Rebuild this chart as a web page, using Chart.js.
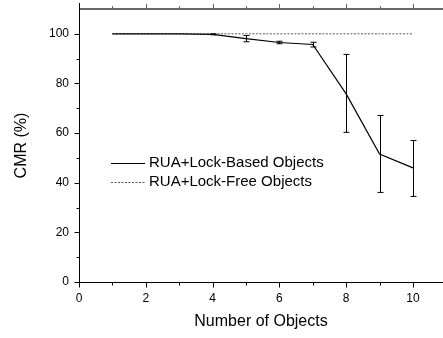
<!DOCTYPE html>
<html>
<head>
<meta charset="utf-8">
<title>CMR vs Number of Objects</title>
<script src="https://cdn.jsdelivr.net/npm/chart.js@4"></script>
<style>
  html,body{margin:0;padding:0;background:#fff;}
  #wrap{width:443px;height:338px;position:relative;}
</style>
</head>
<body>
<div id="wrap"><canvas id="cmr-chart"></canvas></div>
<script>
/* ── Data ── */
var objectCounts = [1, 2, 3, 4, 5, 6, 7, 8, 9, 10];
var lockBasedCmr = [100, 100, 100, 99.8, 98.1, 96.5, 95.7, 75.8, 51.6, 46.0];
var lockBasedLow = [100, 100, 100, 99.6, 96.8, 96.0, 94.7, 60.3, 36.1, 34.5];
var lockBasedHigh = [100, 100, 100, 100, 99.3, 97.0, 96.6, 91.7, 67.1, 57.0];
var lockFreeCmr = [100, 100, 100, 100, 100, 100, 100, 100, 100, 100];
var seriesNames = ['RUA+Lock-Based Objects', 'RUA+Lock-Free Objects'];

var FONT = '"Liberation Sans", Arial, Helvetica, sans-serif';

function toPoints(xs, ys){
  return xs.map(function(x, i){ return {x:x, y:ys[i]}; });
}

/* ── Error bars on the lock-based series ── */
var errorBars = {
  id:'errorBars',
  afterDatasetsDraw:function(chart){
    var ctx = chart.ctx, xs = chart.scales.x, ys = chart.scales.y;
    ctx.save();
    ctx.strokeStyle = '#000';
    ctx.lineWidth = 1;
    objectCounts.forEach(function(n, i){
      if(lockBasedHigh[i] - lockBasedLow[i] < 0.3) return;
      var px = Math.round(xs.getPixelForValue(n)) + 0.5;
      var y1 = ys.getPixelForValue(lockBasedHigh[i]);
      var y2 = ys.getPixelForValue(lockBasedLow[i]);
      ctx.beginPath();
      ctx.moveTo(px, y1); ctx.lineTo(px, y2);
      ctx.moveTo(px - 3, y1); ctx.lineTo(px + 3, y1);
      ctx.moveTo(px - 3, y2); ctx.lineTo(px + 3, y2);
      ctx.stroke();
    });
    ctx.restore();
  }
};

/* ── Axis frame, tick marks and the in-plot legend ── */
var frameAndLegend = {
  id:'frameAndLegend',
  afterDraw:function(chart){
    var ctx = chart.ctx, xs = chart.scales.x, ys = chart.scales.y;
    var a = chart.chartArea;
    var left = Math.round(a.left) + 0.5, bottom = Math.round(a.bottom) + 0.5, top = Math.round(a.top);
    ctx.save();

    // top axis (grey, slightly heavier)
    ctx.strokeStyle = '#666';
    ctx.lineWidth = 2;
    ctx.beginPath(); ctx.moveTo(left, top); ctx.lineTo(a.right, top); ctx.stroke();
    ctx.lineWidth = 1;
    for(var t = 0; t <= 10; t++){
      var tx = Math.round(xs.getPixelForValue(t)) + 0.5;
      ctx.beginPath(); ctx.moveTo(tx, top); ctx.lineTo(tx, top - (t % 2 === 0 ? 5 : 3)); ctx.stroke();
    }

    ctx.strokeStyle = '#000';
    ctx.lineWidth = 1;
    // left and bottom axes
    ctx.beginPath();
    ctx.moveTo(left, 3); ctx.lineTo(left, bottom);
    ctx.lineTo(a.right, bottom);
    ctx.stroke();

    // bottom ticks (outward)
    for(var i = 0; i <= 10; i++){
      var bx = Math.round(xs.getPixelForValue(i)) + 0.5;
      ctx.beginPath(); ctx.moveTo(bx, bottom); ctx.lineTo(bx, bottom + (i % 2 === 0 ? 5 : 3)); ctx.stroke();
    }
    // left ticks (outward)
    for(var v = 0; v <= 100; v += 10){
      var ly = Math.round(ys.getPixelForValue(v)) + 0.5;
      ctx.beginPath(); ctx.moveTo(left, ly); ctx.lineTo(left - (v % 20 === 0 ? 5 : 3), ly); ctx.stroke();
    }

    // legend
    ctx.font = '15px ' + FONT;
    ctx.fillStyle = '#000';
    ctx.textBaseline = 'middle';
    ctx.beginPath(); ctx.moveTo(111, 163.5); ctx.lineTo(145, 163.5); ctx.stroke();
    ctx.fillText(seriesNames[0], 149, 163);
    ctx.strokeStyle = '#555';
    ctx.setLineDash([2, 1.5]);
    ctx.beginPath(); ctx.moveTo(111, 182.5); ctx.lineTo(145, 182.5); ctx.stroke();
    ctx.setLineDash([]);
    ctx.fillText(seriesNames[1], 149, 182);
    ctx.restore();
  }
};

var chart = new Chart(document.getElementById('cmr-chart'), {
  type:'line',
  data:{
    datasets:[
      {
        label:seriesNames[0],
        data:toPoints(objectCounts, lockBasedCmr),
        borderColor:'#000',
        borderWidth:1.2,
        pointRadius:0,
        tension:0,
        fill:false
      },
      {
        label:seriesNames[1],
        data:toPoints(objectCounts, lockFreeCmr),
        borderColor:'#555',
        borderWidth:1,
        borderDash:[2, 1.5],
        pointRadius:0,
        tension:0,
        fill:false
      }
    ]
  },
  options:{
    responsive:true,
    maintainAspectRatio:false,
    animation:false,
    layout:{padding:{top:9, left:0, right:0, bottom:0}},
    plugins:{legend:{display:false}, tooltip:{enabled:false}},
    scales:{
      x:{
        type:'linear', min:0, max:10.9,
        afterFit:function(s){ s.height = 56; s.paddingLeft = 0; s.paddingRight = 0; },
        grid:{display:false},
        border:{display:false},
        ticks:{
          stepSize:1, padding:1, color:'#000', maxRotation:0, autoSkip:false, includeBounds:false,
          font:{family:FONT, size:12},
          callback:function(v){ return (Number.isInteger(v) && v % 2 === 0) ? String(v) : ''; }
        },
        title:{display:true, text:'Number of Objects', color:'#000', font:{family:FONT, size:16}, padding:{top:0, bottom:7}}
      },
      y:{
        min:0, max:110,
        afterFit:function(s){ s.width = 79; s.paddingTop = 0; s.paddingBottom = 0; },
        grid:{display:false},
        border:{display:false},
        ticks:{
          stepSize:20, padding:2, color:'#000', includeBounds:false,
          font:{family:FONT, size:12},
          callback:function(v){ return (v % 20 === 0 && v <= 100) ? String(v) : ''; }
        },
        title:{display:true, text:'CMR (%)', color:'#000', font:{family:FONT, size:16}, padding:{top:12, bottom:0}}
      }
    }
  },
  plugins:[errorBars, frameAndLegend]
});
</script>
</body>
</html>
